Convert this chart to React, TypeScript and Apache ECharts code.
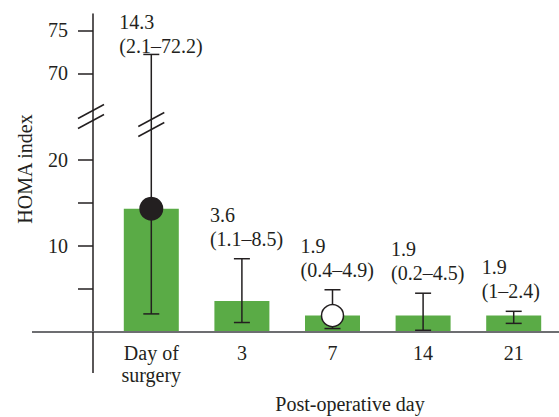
import React, { useEffect, useRef } from "react";
import * as echarts from "echarts";

// ---- data ----
const categories = ["Day of\nsurgery", "3", "7", "14", "21"];
const medians = [14.3, 3.6, 1.9, 1.9, 1.9];
const lows = [2.1, 1.1, 0.4, 0.2, 1];
const highs = [72.2, 8.5, 4.9, 4.5, 2.4];
// y-axis ticks (display values) and the axis break
const tickValues = [5, 10, 15, 20, 70, 75];
const labelledTicks = [10, 20, 70, 75];
const BREAK_FROM = 25; // axis value where the break is drawn
const BREAK_SHIFT = 40; // values above the break are shifted down by this
const filledMarkerDays = [0];
const openMarkerDays = [2];

const toAxis = (v: number) => (v > BREAK_FROM + BREAK_SHIFT - 5 ? v - BREAK_SHIFT : v);
const fromAxis = (v: number) => (v > BREAK_FROM ? v + BREAK_SHIFT : v);

const INK = "#231f20";
const GREEN = "#5aab46";
const FAMILY = "'Liberation Serif', 'Times New Roman', serif";
const FS = 20;

export default function App() {
  const ref = useRef<HTMLDivElement>(null);
  useEffect(() => {
    if (!ref.current) return;
    const chart = echarts.init(ref.current, null, { renderer: "svg" });
    const errData = categories.map((_, i) => [i, toAxis(lows[i]), toAxis(highs[i])]);

    const renderItem = (params: any, api: any) => {
      const i = params.dataIndex;
      const cs = params.coordSys;
      const x = api.coord([i, 0])[0];
      const yLow = api.coord([i, api.value(1)])[1];
      const yHigh = api.coord([i, api.value(2)])[1];
      const cap = 8;
      const ls = { stroke: INK, lineWidth: 1.5 };
      const children: any[] = [
        { type: "line", shape: { x1: x, y1: yLow, x2: x, y2: yHigh }, style: ls },
        { type: "line", shape: { x1: x - cap, y1: yLow, x2: x + cap, y2: yLow }, style: ls },
        { type: "line", shape: { x1: x - cap, y1: yHigh, x2: x + cap, y2: yHigh }, style: ls },
      ];
      const breakMarks = (cx: number, cy: number) => {
        const out: any[] = [];
        [-5, 5].forEach((d) => {
          out.push({
            type: "line",
            shape: { x1: cx - 13, y1: cy + d + 7, x2: cx + 13, y2: cy + d - 7 },
            style: ls,
          });
        });
        return out;
      };
      if (highs[i] > BREAK_FROM + BREAK_SHIFT - 5) {
        const yb = api.coord([i, BREAK_FROM])[1] + 8;
        children.push(...breakMarks(x, yb));
      }
      // annotation
      const textBottom = Math.max(yHigh - 8, cs.y + 44);
      children.push({
        type: "text",
        style: {
          text: `${medians[i]}\n(${lows[i]}–${highs[i]})`,
          x: x - 32,
          y: textBottom,
          fill: INK,
          fontSize: FS,
          fontFamily: FAMILY,
          lineHeight: 24,
          align: "left",
          verticalAlign: "bottom",
        },
      });
      if (i === 0) {
        const y0 = cs.y + cs.height;
        const ax = cs.x - 13;
        // x-axis line, extended past the y axis
        children.push({
          type: "line",
          shape: { x1: cs.x - 74, y1: y0, x2: 559, y2: y0 },
          style: { stroke: "#6d6e71", lineWidth: 2 },
        });
        // y-axis line continues below the x axis
        children.push({
          type: "line",
          shape: { x1: ax, y1: y0, x2: ax, y2: y0 + 41 },
          style: ls,
        });
        const yb = api.coord([0, BREAK_FROM])[1];
        children.push(...breakMarks(ax - 2, yb));
      }
      return { type: "group", children };
    };

    chart.setOption({
      animation: false,
      grid: { left: 106, top: 14, width: 456, height: 318 },
      xAxis: {
        type: "category",
        data: categories,
        axisLine: { show: false },
        axisTick: { show: false },
        axisLabel: {
          color: INK,
          fontSize: FS,
          fontFamily: FAMILY,
          lineHeight: 22,
          margin: 10,
        },
      },
      yAxis: {
        type: "value",
        min: 0,
        max: 36.89,
        offset: 13,
        splitLine: { show: false },
        axisLine: { show: true, lineStyle: { color: INK, width: 1.5 } },
        axisTick: {
          show: true,
          length: 15,
          lineStyle: { color: INK, width: 1.5 },
          customValues: tickValues.map(toAxis),
        },
        axisLabel: {
          color: INK,
          fontSize: FS,
          fontFamily: FAMILY,
          margin: 25,
          customValues: labelledTicks.map(toAxis),
          formatter: (v: number) => String(Math.round(fromAxis(v))),
        },
      },
      series: [
        {
          type: "bar",
          data: medians,
          barWidth: 55,
          itemStyle: { color: GREEN },
          z: 1,
        },
        {
          type: "custom",
          data: errData,
          renderItem,
          clip: false,
          z: 3,
        },
        {
          type: "scatter",
          data: filledMarkerDays.map((i) => [i, medians[i]]),
          symbol: "circle",
          symbolSize: 24,
          itemStyle: { color: INK, opacity: 1 },
          z: 5,
        },
        {
          type: "scatter",
          data: openMarkerDays.map((i) => [i, medians[i]]),
          symbol: "circle",
          symbolSize: 22,
          itemStyle: { color: "#ffffff", borderColor: INK, borderWidth: 1.5, opacity: 1 },
          z: 5,
        },
      ],
      graphic: [
        {
          type: "text",
          x: 25,
          y: 169,
          rotation: Math.PI / 2,
          style: {
            text: "HOMA index",
            fill: INK,
            fontSize: FS,
            fontFamily: FAMILY,
            align: "center",
            verticalAlign: "middle",
          },
        },
        {
          type: "text",
          x: 350,
          y: 404,
          style: {
            text: "Post-operative day",
            fill: INK,
            fontSize: FS,
            fontFamily: FAMILY,
            align: "center",
            verticalAlign: "middle",
          },
        },
      ],
    });
    return () => chart.dispose();
  }, []);
  return (
    <div
      ref={ref}
      style={{ position: "fixed", left: 0, top: 0, width: 559, height: 417, background: "#fff" }}
    />
  );
}
